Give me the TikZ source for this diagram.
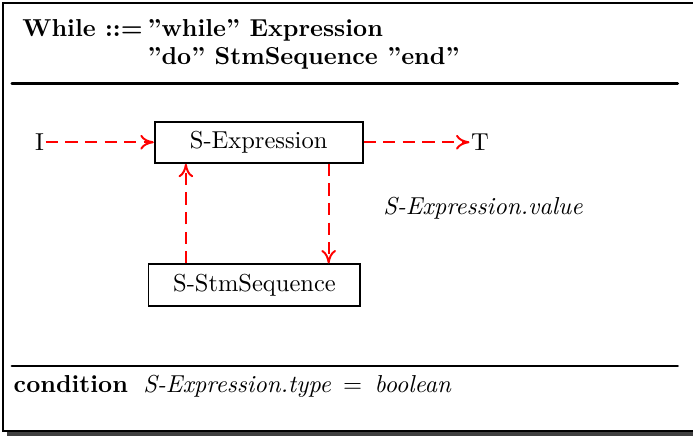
\documentclass[tikz,border=0pt]{standalone}
\usepackage{amsmath,tikz,tkz-euclide}
\usetikzlibrary{positioning,arrows.meta}

\tikzset{
  sbox/.style={draw,line width=0.8pt,minimum height=0.59cm,inner sep=2pt},
  flow/.style={red,line width=0.8pt,dash pattern=on 5pt off 3pt,-{To[length=5.5pt,width=6pt]}},
  txt/.style={anchor=base west,inner sep=0pt}
}

\begin{document}
\begin{tikzpicture}
\useasboundingbox (0,0) rectangle (9.94,6.25);
% frame and its shadow
\fill[black!75] (0.10,0) rectangle (10.2,6.15);
\draw[line width=0.9pt,fill=white] (0.04,0.07) rectangle (10.1,6.21);
\tkzDefPoint(0.17,5.05){A}
\tkzDefPoint(9.72,5.05){B}
\tkzDefPoint(0.17,1.00){C}
\tkzDefPoint(9.72,1.00){D}
\tkzDrawSegments[line width=1.1pt](A,B C,D)
% rule
\node[txt,font=\bfseries] (lhs) at (0.315,5.72) {While ::=};
\node[txt,font=\bfseries] (rhsa) at (2.11,5.72) {''while'' Expression};
\node[txt,font=\bfseries] (rhsb) at (2.11,5.33) {''do'' StmSequence ''end''};
% semantic boxes
\node[sbox,minimum width=2.98cm] (sexp) at (3.71,4.21) {S-Expression};
\node[sbox,minimum width=3.04cm,below=1.43cm of sexp,xshift=-0.06cm] (sstm) {S-StmSequence};
\node[inner sep=0.5pt,left=1.55cm of sexp] (in) {I};
\node[inner sep=0.5pt,right=1.52cm of sexp] (out) {T};
\coordinate (up) at ([xshift=0.55cm]sstm.north west);
\coordinate (down) at ([xshift=-0.5cm]sexp.south east);
\draw[flow] (in) -- (sexp);
\draw[flow] (sexp) -- (out);
\draw[flow] (up) -- (up |- sexp.south);
\draw[flow] (down) -- (down |- sstm.north);
\node[txt] (val) at (5.49,3.18) {\textit{S-Expression.value}};
% condition
\node[txt,font=\bfseries] (cond) at (0.19,0.62) {condition};
\node[txt] (condval) at (2.05,0.62) {\textit{S-Expression.type}~\,$=$\,~\textit{boolean}};
\end{tikzpicture}
\end{document}
